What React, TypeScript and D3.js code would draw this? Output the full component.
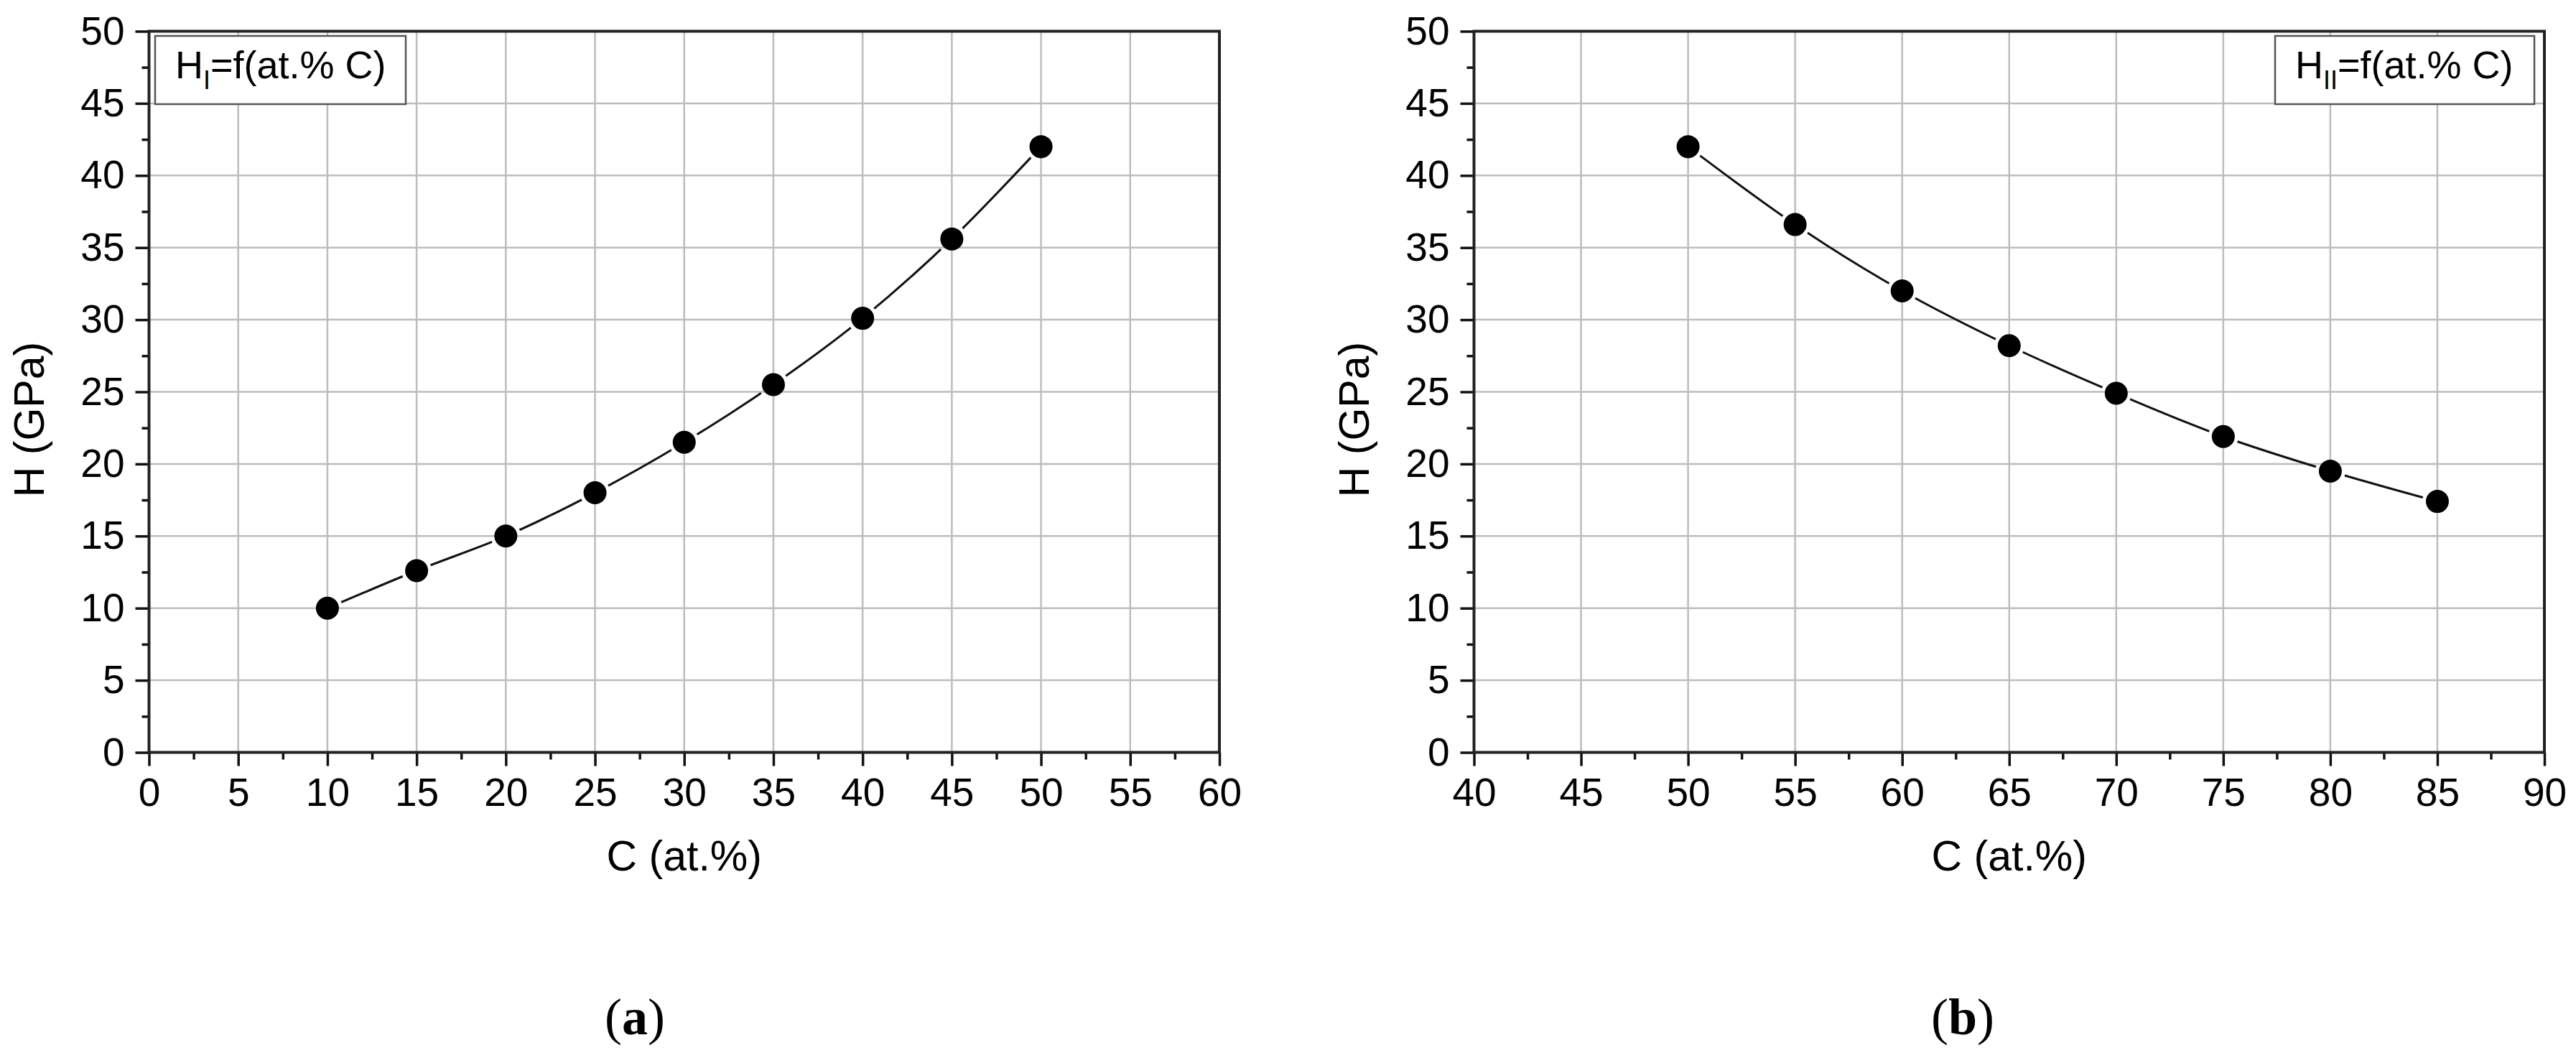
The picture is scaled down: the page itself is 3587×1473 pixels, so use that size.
import React, { useRef, useEffect } from 'react';
import * as d3 from 'd3';

// carbon content (at.%) and hardness (GPa)
const cLeft = [10, 15, 20, 25, 30, 35, 40, 45, 50];
const hLeft = [10.0, 12.6, 15.0, 18.0, 21.5, 25.5, 30.1, 35.6, 42.0];
const cRight = [50, 55, 60, 65, 70, 75, 80, 85];
const hRight = [42.0, 36.6, 32.0, 28.2, 24.9, 21.9, 19.5, 17.4];

const yTicks = [0, 5, 10, 15, 20, 25, 30, 35, 40, 45, 50];
const xTicksLeft = [0, 5, 10, 15, 20, 25, 30, 35, 40, 45, 50, 55, 60];
const xTicksRight = [40, 45, 50, 55, 60, 65, 70, 75, 80, 85, 90];

const W = 3587;
const H = 1473;
const TOP = 43.5;
const BOTTOM = 1047.5;
const FONT = '"Liberation Sans", Arial, sans-serif';

const panels = [
    {
        key: 'a', left: 207.5, right: 1698, xTicks: xTicksLeft, cs: cLeft, hs: hLeft,
        sub: 'I', boxX: 216, boxW: 349, tag: 'a', tagX: 884,
    },
    {
        key: 'b', left: 2052.5, right: 3543, xTicks: xTicksRight, cs: cRight, hs: hRight,
        sub: 'II', boxX: 3168, boxW: 361, tag: 'b', tagX: 2733,
    },
];

const App = () => {
    const svgRef = useRef(null);

    useEffect(() => {
        const svg = d3.select(svgRef.current);
        svg.selectAll('*').remove();

        const y = d3.scaleLinear().domain([0, 50]).range([BOTTOM, TOP]);

        panels.forEach((p) => {
            const xt = p.xTicks;
            const x = d3.scaleLinear().domain([xt[0], xt[xt.length - 1]]).range([p.left, p.right]);
            const g = svg.append('g');

            // grid
            g.selectAll('.gx').data(xt.slice(1, -1)).join('line')
                .attr('x1', (d) => x(d)).attr('x2', (d) => x(d))
                .attr('y1', TOP).attr('y2', BOTTOM)
                .attr('stroke', '#bdbdbd').attr('stroke-width', 2.5);
            g.selectAll('.gy').data(yTicks.slice(1, -1)).join('line')
                .attr('x1', p.left).attr('x2', p.right)
                .attr('y1', (d) => y(d)).attr('y2', (d) => y(d))
                .attr('stroke', '#bdbdbd').attr('stroke-width', 2.5);

            // minor ticks
            const xMinor = xt.slice(0, -1).map((d) => d + 2.5);
            const yMinor = yTicks.slice(0, -1).map((d) => d + 2.5);
            g.append('g').attr('transform', `translate(0,${BOTTOM})`)
                .call(d3.axisBottom(x).tickValues(xMinor).tickSize(10).tickFormat(() => ''))
                .call((a) => a.select('.domain').remove());
            g.append('g').attr('transform', `translate(${p.left},0)`)
                .call(d3.axisLeft(y).tickValues(yMinor).tickSize(10).tickFormat(() => ''))
                .call((a) => a.select('.domain').remove());

            // major ticks + labels
            const xa = g.append('g').attr('transform', `translate(0,${BOTTOM})`)
                .call(d3.axisBottom(x).tickValues(xt).tickSize(19).tickPadding(16).tickFormat(d3.format('d')));
            const ya = g.append('g').attr('transform', `translate(${p.left},0)`)
                .call(d3.axisLeft(y).tickValues(yTicks).tickSize(19).tickPadding(15).tickFormat(d3.format('d')));
            [xa, ya].forEach((a) => {
                a.select('.domain').remove();
                a.selectAll('text').attr('font-family', FONT).attr('font-size', 55).attr('fill', '#000');
            });
            g.selectAll('.tick line').attr('stroke', '#111').attr('stroke-width', 3.5);

            // frame
            g.append('rect')
                .attr('x', p.left).attr('y', TOP)
                .attr('width', p.right - p.left).attr('height', BOTTOM - TOP)
                .attr('fill', 'none').attr('stroke', '#222').attr('stroke-width', 4);

            // curve with gaps around markers
            const pts = p.cs.map((c, i) => [x(c), y(p.hs[i])]);
            const mask = svg.append('mask').attr('id', `gap-${p.key}`).attr('maskUnits', 'userSpaceOnUse')
                .attr('x', 0).attr('y', 0).attr('width', W).attr('height', H);
            mask.append('rect').attr('width', W).attr('height', H).attr('fill', 'white');
            mask.selectAll('circle').data(pts).join('circle')
                .attr('cx', (d) => d[0]).attr('cy', (d) => d[1]).attr('r', 21).attr('fill', 'black');

            const line = d3.line().curve(d3.curveMonotoneX);
            g.append('path')
                .attr('d', line(pts))
                .attr('fill', 'none').attr('stroke', '#111').attr('stroke-width', 3)
                .attr('mask', `url(#gap-${p.key})`);

            g.selectAll('.pt').data(pts).join('circle')
                .attr('cx', (d) => d[0]).attr('cy', (d) => d[1]).attr('r', 16).attr('fill', '#000');

            // legend box
            g.append('rect')
                .attr('x', p.boxX).attr('y', 50).attr('width', p.boxW).attr('height', 95)
                .attr('fill', '#fff').attr('stroke', '#555').attr('stroke-width', 2.5);
            const lt = g.append('text')
                .attr('x', p.boxX + 28).attr('y', 109)
                .attr('font-family', FONT).attr('font-size', 54).attr('fill', '#000');
            lt.append('tspan').text('H');
            lt.append('tspan').attr('dy', 15).attr('font-size', 36).text(p.sub);
            lt.append('tspan').attr('dy', -15).text('=f(at.% C)');

            // axis titles
            g.append('text')
                .attr('x', (p.left + p.right) / 2).attr('y', 1212)
                .attr('text-anchor', 'middle')
                .attr('font-family', FONT).attr('font-size', 59).attr('fill', '#000')
                .text('C (at.%)');
            g.append('text')
                .attr('transform', `translate(${p.left - 147},${584}) rotate(-90)`)
                .attr('text-anchor', 'middle')
                .attr('font-family', FONT).attr('font-size', 59).attr('fill', '#000')
                .text('H (GPa)');

            // panel tag
            const tg = g.append('text')
                .attr('x', p.tagX).attr('y', 1440)
                .attr('text-anchor', 'middle')
                .attr('font-family', '"Liberation Serif", "Times New Roman", serif')
                .attr('font-size', 72).attr('fill', '#000');
            tg.append('tspan').text('(');
            tg.append('tspan').attr('font-weight', 'bold').text(p.tag);
            tg.append('tspan').text(')');
        });
    }, []);

    return (
        <svg
            ref={svgRef}
            width={W}
            height={H}
            style={{ position: 'absolute', left: 0, top: 0, background: '#fff' }}
        />
    );
};

export default App;
